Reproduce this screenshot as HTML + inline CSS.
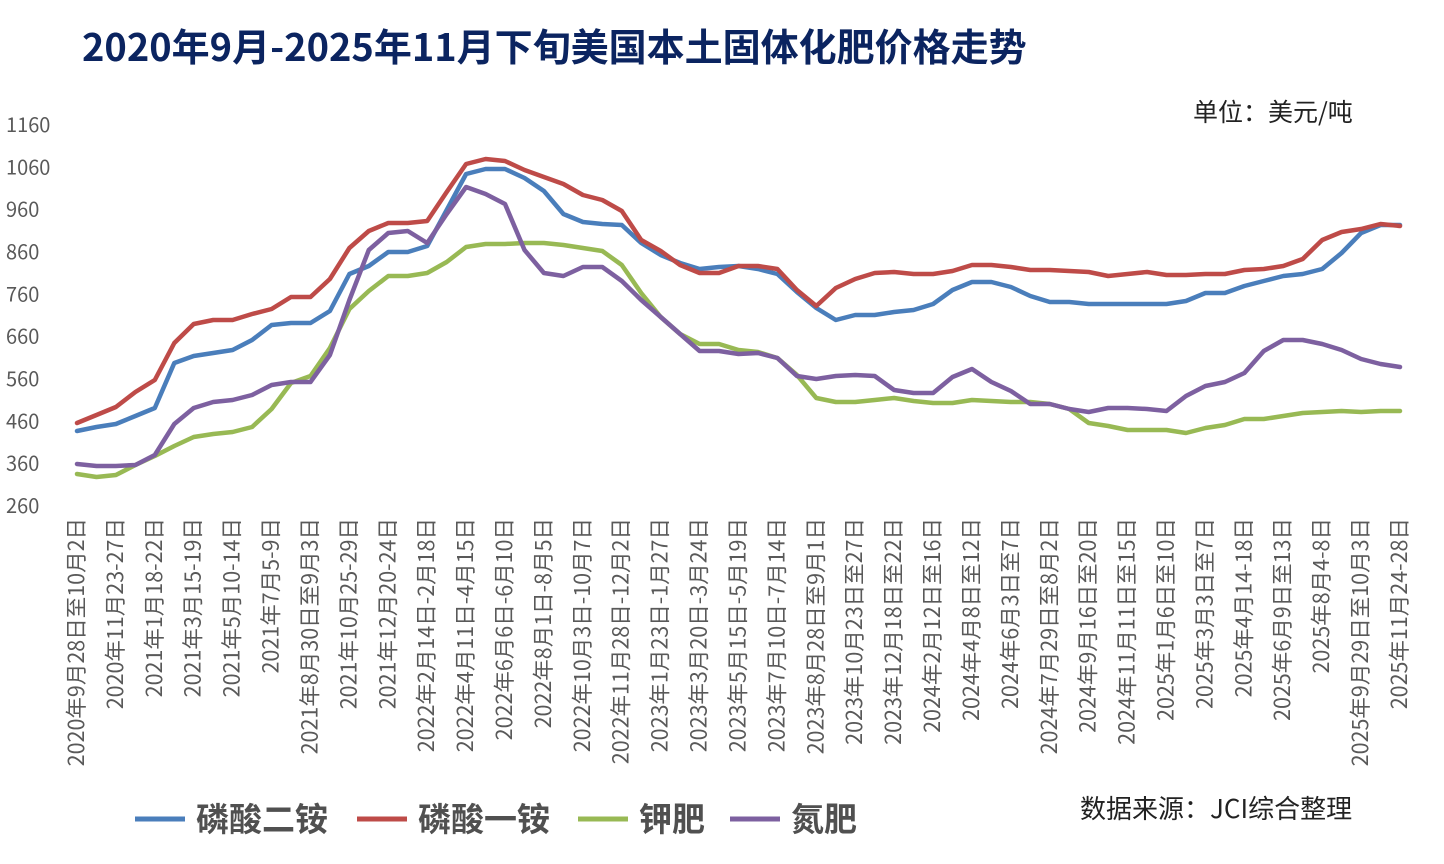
<!DOCTYPE html>
<html><head><meta charset="utf-8"><style>
body{margin:0;background:#fff;width:1444px;height:864px;overflow:hidden;font-family:"Noto Sans CJK SC",sans-serif;}
</style></head><body>
<svg id="s" width="1444" height="864" xmlns="http://www.w3.org/2000/svg" style="position:absolute;left:0;top:0" font-family="Noto Sans CJK SC,sans-serif">
<text x="82" y="61" font-size="38" font-weight="bold" fill="#0b2460">2020年9月-2025年11月下旬美国本土固体化肥价格走势</text>
<text x="1193" y="121" font-size="25" fill="#222">单位：美元/吨</text>
<g id="yl" font-size="20" fill="#595959"></g>
<g id="xl" font-size="21.5" fill="#595959"></g>
<g id="lines" fill="none" stroke-width="4.5" stroke-linejoin="round" stroke-linecap="round"></g>
<g font-size="33" font-weight="bold" fill="#505050">
<line x1="135" y1="819" x2="185" y2="819" stroke="#4a7ebb" stroke-width="5"/><text x="196" y="831">磷酸二铵</text>
<line x1="357" y1="819" x2="407" y2="819" stroke="#be4b48" stroke-width="5"/><text x="418" y="831">磷酸一铵</text>
<line x1="578" y1="819" x2="628" y2="819" stroke="#98b954" stroke-width="5"/><text x="639" y="831">钾肥</text>
<line x1="730" y1="819" x2="780" y2="819" stroke="#7d60a0" stroke-width="5"/><text x="791" y="831">氮肥</text>
</g>
<text x="1080" y="818" font-size="26" fill="#222">数据来源：JCI综合整理</text>
</svg>
<script>
var NS="http://www.w3.org/2000/svg";
function el(t,a,p,txt){var e=document.createElementNS(NS,t);for(var k in a)e.setAttribute(k,a[k]);if(txt)e.textContent=txt;p.appendChild(e);return e;}
var yl=document.getElementById('yl');
for(var v=260,i=0;v<=1160;v+=100,i++){var y=506-i*42.33;el('text',{x:6,y:y+7},yl,String(v));}
var labs=["2020年9月28日至10月2日","2020年11月23-27日","2021年1月18-22日","2021年3月15-19日","2021年5月10-14日","2021年7月5-9日","2021年8月30日至9月3日","2021年10月25-29日","2021年12月20-24日","2022年2月14日-2月18日","2022年4月11日-4月15日","2022年6月6日-6月10日","2022年8月1日-8月5日","2022年10月3日-10月7日","2022年11月28日-12月2日","2023年1月23日-1月27日","2023年3月20日-3月24日","2023年5月15日-5月19日","2023年7月10日-7月14日","2023年8月28日至9月1日","2023年10月23日至27日","2023年12月18日至22日","2024年2月12日至16日","2024年4月8日至12日","2024年6月3日至7日","2024年7月29日至8月2日","2024年9月16日至20日","2024年11月11日至15日","2025年1月6日至10日","2025年3月3日至7日","2025年4月14-18日","2025年6月9日至13日","2025年8月4-8日","2025年9月29日至10月3日","2025年11月24-28日"];
var xl=document.getElementById('xl');
labs.forEach(function(t,i){var x=77+i*38.91+7;el('text',{x:0,y:0,transform:'translate('+x+',518) rotate(-90)','text-anchor':'end'},xl,t);});
var D={
"#4a7ebb":[431,427,424,416,408,363,356,353,350,340,325,323,323,311,274,266,252,252,246,210,174,169,169,178,191,214,222,224,225,243,255,263,269,267,266,269,274,292,308,320,315,315,312,310,304,290,282,282,287,296,302,302,304,304,304,304,304,301,293,293,286,281,276,274,269,253,233,225,225],
"#be4b48":[423,415,407,392,380,343,324,320,320,314,309,297,297,279,248,231,223,223,221,192,164,159,161,170,177,184,195,200,211,240,251,265,273,273,266,266,269,290,306,288,279,273,272,274,274,271,265,265,267,270,270,271,272,276,274,272,275,275,274,274,270,269,266,259,240,232,229,224,226],
"#98b954":[474,477,475,465,456,446,437,434,432,427,409,383,376,348,309,291,276,276,273,262,247,244,244,243,243,245,248,251,265,293,317,334,344,344,350,352,358,375,398,402,402,400,398,401,403,403,400,401,402,402,404,409,423,426,430,430,430,433,428,425,419,419,416,413,412,411,412,411,411],
"#7d60a0":[464,466,466,465,455,424,408,402,400,395,385,382,382,355,300,250,233,231,243,214,187,194,204,250,273,276,267,267,281,300,317,334,351,351,354,353,358,376,379,376,375,376,390,393,393,377,369,382,391,404,404,409,412,408,408,409,411,396,386,382,373,351,340,340,344,350,359,364,367]};
var g=document.getElementById('lines');
for(var c in D){var p=D[c].map(function(y,i){return (77+i*1323/(D[c].length-1)).toFixed(1)+','+y;}).join(' ');el('polyline',{points:p,stroke:c},g);}
</script>
</body></html>
